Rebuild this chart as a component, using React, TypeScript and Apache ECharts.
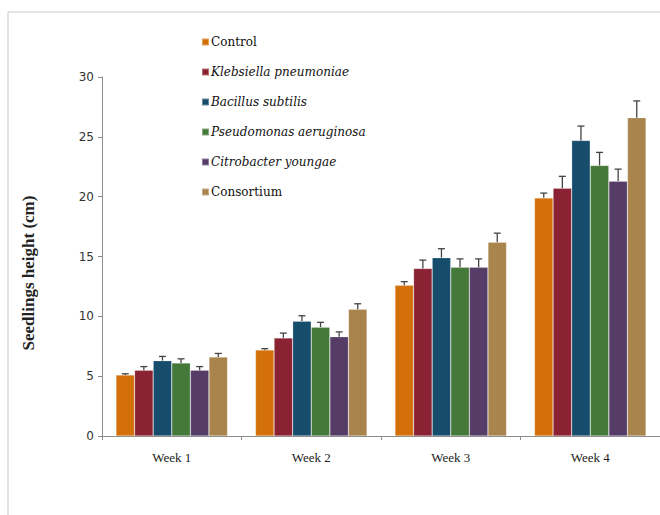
import React, { useEffect, useRef } from "react";
import * as echarts from "echarts";

const categories = ["Week 1", "Week 2", "Week 3", "Week 4"];
const seriesNames = [
  "Control",
  "Klebsiella pneumoniae",
  "Bacillus subtilis",
  "Pseudomonas aeruginosa",
  "Citrobacter youngae",
  "Consortium",
];
const italicNames = [false, true, true, true, true, false];
const colors = ["#D3700A", "#8B2233", "#174D6C", "#45793A", "#553D68", "#A9844C"];

const controlValues = [5.1, 7.2, 12.6, 19.9];
const klebsiellaValues = [5.5, 8.2, 14.0, 20.7];
const bacillusValues = [6.3, 9.6, 14.9, 24.7];
const pseudomonasValues = [6.1, 9.1, 14.1, 22.6];
const citrobacterValues = [5.5, 8.3, 14.1, 21.3];
const consortiumValues = [6.6, 10.6, 16.2, 26.6];

const controlErrors = [0.1, 0.1, 0.3, 0.4];
const klebsiellaErrors = [0.3, 0.4, 0.7, 1.0];
const bacillusErrors = [0.35, 0.45, 0.75, 1.2];
const pseudomonasErrors = [0.35, 0.4, 0.7, 1.1];
const citrobacterErrors = [0.3, 0.4, 0.7, 1.0];
const consortiumErrors = [0.3, 0.45, 0.75, 1.4];

const yTicks = [0, 5, 10, 15, 20, 25, 30];

const allValues = [
  controlValues,
  klebsiellaValues,
  bacillusValues,
  pseudomonasValues,
  citrobacterValues,
  consortiumValues,
];
const allErrors = [
  controlErrors,
  klebsiellaErrors,
  bacillusErrors,
  pseudomonasErrors,
  citrobacterErrors,
  consortiumErrors,
];

const SERIF = "DejaVu Serif";
const SERIF2 = "Liberation Serif";
const SANS = "DejaVu Sans";

export default function App() {
  const ref = useRef<HTMLDivElement>(null);
  useEffect(() => {
    if (!ref.current) return;
    const chart = echarts.init(ref.current, null, { renderer: "svg" });
    const nSeries = seriesNames.length;
    const catGapRatio = 0.2;

    const barSeries = seriesNames.map((name, i) => ({
      name,
      type: "bar",
      data: allValues[i],
      barGap: "0%",
      barCategoryGap: "20%",
      itemStyle: { color: colors[i], borderColor: "rgba(255,255,255,0.35)", borderWidth: 0.6 },
      z: 2,
    }));

    const errorSeries = seriesNames.map((name, i) => ({
      name: name + " error",
      type: "custom",
      z: 3,
      silent: true,
      data: allValues[i].map((v, k) => [k, v, v + allErrors[i][k]]),
      renderItem: (params: any, api: any) => {
        const k = api.value(0);
        const base = api.coord([k, api.value(1)]);
        const top = api.coord([k, api.value(2)]);
        const catW = api.size([1, 0])[0];
        const bw = (catW * (1 - catGapRatio)) / nSeries;
        const x = base[0] - (catW * (1 - catGapRatio)) / 2 + bw * (i + 0.5);
        const style = { stroke: "#444", lineWidth: 1.3 };
        return {
          type: "group",
          children: [
            { type: "line", shape: { x1: x, y1: base[1], x2: x, y2: top[1] }, style },
            { type: "line", shape: { x1: x - 3.5, y1: top[1], x2: x + 3.5, y2: top[1] }, style },
          ],
        };
      },
    }));

    chart.setOption({
      animation: false,
      backgroundColor: "#ffffff",
      textStyle: { fontFamily: SERIF2 },
      grid: { left: 102, top: 77, width: 558, height: 359, containLabel: false },
      legend: {
        orient: "vertical",
        left: 196,
        top: 31,
        itemGap: 18,
        itemWidth: 7,
        itemHeight: 7,
        icon: "rect",
        data: seriesNames.map((n, i) => ({
          name: n,
          textStyle: {
            fontFamily: SERIF,
            fontSize: 12,
            color: "#111",
            fontStyle: italicNames[i] ? "italic" : "normal",
          },
        })),
        textStyle: {
          fontFamily: SERIF,
          fontSize: 12,
          color: "#111",
          padding: [0, 0, 0, -3],
        },
      },
      xAxis: {
        type: "category",
        data: categories,
        axisLine: { lineStyle: { color: "#8c8c8c", width: 1 } },
        axisTick: { show: true, length: 4, lineStyle: { color: "#8c8c8c" } },
        axisLabel: { fontFamily: SERIF2, fontSize: 13, color: "#222", margin: 15 },
      },
      yAxis: {
        type: "value",
        min: yTicks[0],
        max: yTicks[yTicks.length - 1],
        interval: 5,
        axisLine: { show: true, lineStyle: { color: "#8c8c8c", width: 1 } },
        axisTick: { show: true, length: 4, lineStyle: { color: "#8c8c8c" } },
        axisLabel: { fontFamily: SANS, fontSize: 12, color: "#333", margin: 8 },
        splitLine: { show: false },
      },
      graphic: [
        {
          type: "rect",
          shape: { x: 8, y: 12, width: 800, height: 700 },
          style: { fill: "none", stroke: "#c8c8c8", lineWidth: 1 },
          silent: true,
          z: -1,
        },
        {
          type: "text",
          x: 28,
          y: 273,
          rotation: Math.PI / 2,
          style: {
            text: "Seedlings height (cm)",
            fontFamily: SERIF2,
            fontSize: 17,
            fontWeight: "bold",
            fill: "#222",
            textAlign: "center",
            textVerticalAlign: "middle",
          },
        },
      ],
      series: [...barSeries, ...errorSeries],
    });
    return () => chart.dispose();
  }, []);
  return (
    <div
      ref={ref}
      style={{ position: "fixed", left: 0, top: 0, width: 660, height: 515 }}
    />
  );
}
